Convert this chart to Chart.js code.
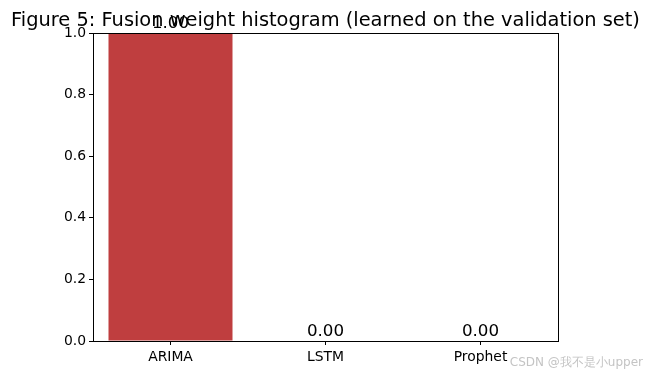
<!DOCTYPE html>
<html>
<head>
<meta charset="utf-8">
<script src="https://cdn.jsdelivr.net/npm/chart.js@4/dist/chart.umd.min.js"></script>
<style>
  html, body { margin: 0; padding: 0; background: #fff; }
  canvas { display: block; }
</style>
</head>
<body>
<canvas id="weightChart" width="651" height="375"></canvas>
<script>
// Data
const models = ['ARIMA', 'LSTM', 'Prophet'];
const weights = [1.00, 0.00, 0.00];
const yTicks = [0, 0.2, 0.4, 0.6, 0.8, 1.0];

const titleText = 'Figure 5: Fusion weight histogram (learned on the validation set)';
const watermarkText = 'CSDN @我不是小upper';
const barColor = '#bf3e3f';
const fontFamily = '"DejaVu Sans", sans-serif';

// Frame, value labels, title, watermark
const decorPlugin = {
    id: 'decor',
    afterDraw(chart) {
        const ctx = chart.ctx;
        const area = chart.chartArea;
        const x = chart.scales.x;
        const y = chart.scales.y;
        ctx.save();

        ctx.strokeStyle = '#000';
        ctx.lineWidth = 1;
        ctx.strokeRect(Math.round(area.left) + 0.5, Math.round(area.top) + 0.5,
            Math.round(area.right - area.left), Math.round(area.bottom - area.top));

        ctx.fillStyle = '#000';
        ctx.font = '16.7px ' + fontFamily;
        ctx.textAlign = 'center';
        ctx.textBaseline = 'alphabetic';
        weights.forEach((w, i) => {
            ctx.fillText(w.toFixed(2), x.getPixelForValue(i), y.getPixelForValue(w) - 5);
        });

        ctx.font = '19.4px ' + fontFamily;
        ctx.fillText(titleText, (area.left + area.right) / 2, 26);

        ctx.fillStyle = '#c4c4c4';
        ctx.font = '12px ' + fontFamily;
        ctx.textAlign = 'right';
        ctx.fillText(watermarkText, 643, 366);
        ctx.restore();
    }
};

new Chart(document.getElementById('weightChart').getContext('2d'), {
    type: 'bar',
    data: {
        labels: models,
        datasets: [{
            data: weights,
            backgroundColor: barColor,
            borderColor: barColor,
            borderWidth: 0,
            barPercentage: 0.8,
            categoryPercentage: 1.0
        }]
    },
    options: {
        responsive: false,
        animation: false,
        devicePixelRatio: 1,
        layout: { padding: { left: 0, right: 93, top: 33, bottom: 0 } },
        plugins: {
            legend: { display: false },
            tooltip: { enabled: false },
            title: { display: false }
        },
        scales: {
            x: {
                offset: true,
                grid: { display: true, drawOnChartArea: false, drawTicks: true, tickLength: 4, color: '#000', offset: false },
                border: { display: true, color: '#000' },
                ticks: { color: '#000', font: { family: fontFamily, size: 13.9 }, padding: 4, maxRotation: 0 },
                afterFit: (s) => { s.height = 34; }
            },
            y: {
                min: 0,
                max: 1,
                afterBuildTicks: (s) => { s.ticks = yTicks.map(v => ({ value: v })); },
                grid: { display: true, drawOnChartArea: false, drawTicks: true, tickLength: 4, color: '#000' },
                border: { display: true, color: '#000' },
                ticks: {
                    color: '#000',
                    font: { family: fontFamily, size: 13.9 },
                    padding: 3,
                    callback: (v) => Number(v).toFixed(1)
                },
                afterFit: (s) => { s.width = 93; }
            }
        }
    },
    plugins: [decorPlugin]
});
</script>
</body>
</html>
